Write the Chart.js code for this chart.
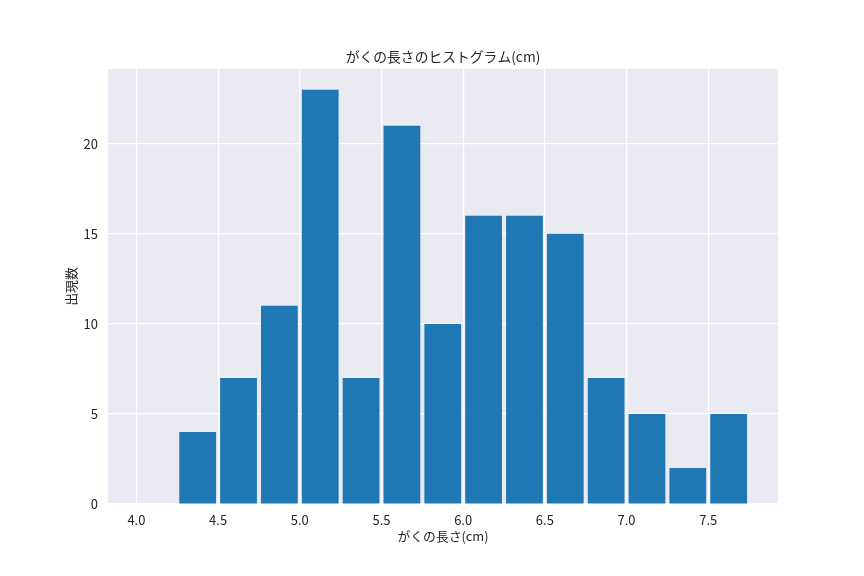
<!DOCTYPE html>
<html>
<head>
<meta charset="utf-8">
<script src="https://cdn.jsdelivr.net/npm/chart.js@4/dist/chart.umd.min.js"></script>
<style>
  html, body { margin: 0; padding: 0; background: #ffffff; }
  #wrap { width: 864px; height: 576px; }
</style>
</head>
<body>
<div id="wrap"><canvas id="hist"></canvas></div>
<script>
// ヒストグラムのデータ (bin width 0.25)
const binStarts = [4.0, 4.25, 4.5, 4.75, 5.0, 5.25, 5.5, 5.75, 6.0, 6.25, 6.5, 6.75, 7.0, 7.25, 7.5];
const binWidth = 0.25;
const counts = [0, 4, 7, 11, 23, 7, 21, 10, 16, 16, 15, 7, 5, 2, 5];
const xTicks = [4.0, 4.5, 5.0, 5.5, 6.0, 6.5, 7.0, 7.5];
const yTicks = [0, 5, 10, 15, 20];

const titleText = 'がくの長さのヒストグラム(cm)';
const xLabel = 'がくの長さ(cm)';
const yLabel = '出現数';

const fontFamily = '"Noto Sans CJK JP", "DejaVu Sans", sans-serif';
const textColor = '#262626';

// 描画領域の背景 (seaborn darkgrid 風)
const plotBackground = {
    id: 'plotBackground',
    beforeDraw(chart) {
        const { ctx, chartArea } = chart;
        ctx.save();
        ctx.fillStyle = '#eaeaf2';
        ctx.fillRect(chartArea.left, chartArea.top, chartArea.right - chartArea.left, chartArea.bottom - chartArea.top);
        ctx.restore();
    }
};

// タイトルはプロット領域の中央に合わせる (matplotlib と同じ)
const axesTitle = {
    id: 'axesTitle',
    afterDraw(chart) {
        const { ctx, chartArea } = chart;
        ctx.save();
        ctx.fillStyle = textColor;
        ctx.font = `13.8px ${fontFamily}`;
        ctx.textAlign = 'center';
        ctx.textBaseline = 'middle';
        ctx.fillText(titleText, (chartArea.left + chartArea.right) / 2, chartArea.top - 12);
        ctx.restore();
    }
};

const points = binStarts.map((b, i) => ({ x: b + binWidth / 2, y: counts[i] }));

new Chart(document.getElementById('hist'), {
    type: 'bar',
    data: {
        datasets: [{
            data: points,
            backgroundColor: '#1f77b4',
            borderWidth: 0,
            barPercentage: 0.9,
            categoryPercentage: 1.0,
        }]
    },
    options: {
        responsive: true,
        maintainAspectRatio: false,
        animation: false,
        layout: { padding: { left: 63, right: 86, top: 69, bottom: 32 } },
        plugins: {
            legend: { display: false },
            tooltip: { enabled: false },
            title: { display: false },
        },
        scales: {
            x: {
                type: 'linear',
                min: 3.826,
                max: 7.927,
                offset: false,
                afterBuildTicks(scale) { scale.ticks = xTicks.map(v => ({ value: v })); },
                afterFit(scale) { scale.height = 40; },
                grid: { color: '#ffffff', lineWidth: 1.2, drawTicks: false, offset: false },
                border: { display: false },
                ticks: {
                    color: textColor,
                    padding: 8,
                    maxRotation: 0,
                    font: { family: fontFamily, size: 13 },
                    callback: v => v.toFixed(1),
                },
                title: {
                    display: true,
                    text: xLabel,
                    color: textColor,
                    font: { family: fontFamily, size: 12.8 },
                    padding: { top: 2, bottom: 0 },
                },
            },
            y: {
                min: 0,
                max: 24.15,
                afterBuildTicks(scale) { scale.ticks = yTicks.map(v => ({ value: v })); },
                afterFit(scale) { scale.width = 45; },
                grid: { color: '#ffffff', lineWidth: 1.2, drawTicks: false },
                border: { display: false },
                ticks: {
                    color: textColor,
                    padding: 10,
                    font: { family: fontFamily, size: 13 },
                },
                title: {
                    display: true,
                    text: yLabel,
                    color: textColor,
                    font: { family: fontFamily, size: 12.8 },
                    padding: { top: 0, bottom: 0 },
                },
            },
        },
    },
    plugins: [plotBackground, axesTitle],
});
</script>
</body>
</html>
